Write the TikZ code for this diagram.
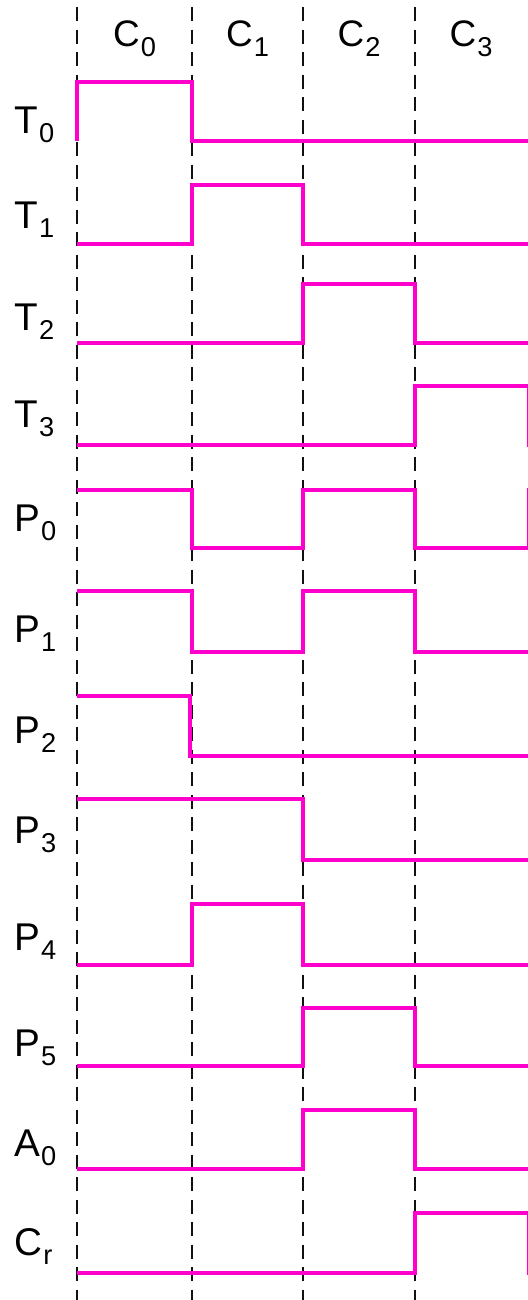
\documentclass[tikz,border=0pt]{standalone}
\usepackage{fontspec}
\setmainfont{Liberation Sans}
\usepackage{tikz}
\usetikzlibrary{calc}
\usepackage{xcolor}
\definecolor{SigPink}{HTML}{FF00CC}
\definecolor{GridInk}{HTML}{111111}
\newcommand{\sublab}[3]{#1\kern0.6pt\raisebox{-#3}{\fontsize{15.5}{15.5}\selectfont #2}}
\tikzset{
  cyc/.style={draw=GridInk, line width=1.7pt, dash pattern=on 0.28cm off 0.17cm},
  sig/.style={draw=SigPink, line width=2.8pt, line join=miter},
  rowlab/.style={anchor=base west, inner sep=0pt, font=\fontsize{22}{22}\selectfont},
  collab/.style={anchor=base, inner sep=0pt, font=\fontsize{21}{21}\selectfont},
}

\begin{document}
\begin{tikzpicture}[x=0.2mm, y=-0.2mm]
    \useasboundingbox (0,0) rectangle (528,1300);
    % cycle boundaries and cycle names
    \foreach \x [count=\i from 0] in {77,192,303,415}
      \draw[cyc] (\x,7) -- (\x,1300);
    \foreach \i/\xc in {0/134.5,1/247.5,2/359,3/471}
      \node[collab] (c\i) at (\xc,46) {\sublab{C}{\i}{0.2cm}};
    % signal names
    \foreach \nm/\s/\yb in {T/0/133, T/1/228, T/2/330, T/3/427,
        P/0/531, P/1/642, P/2/743, P/3/843, P/4/950, P/5/1056,
        A/0/1156, C/r/1255}
      \node[rowlab] (\nm\s) at (14,\yb) {\sublab{\nm}{\s}{0.18cm}};
    % waveforms
    \draw[sig] (77,141) -- (77,82) -- (192,82) -- (192,141) -- (532,141);
    \draw[sig] (77,244) -- (192,244) -- (192,185) -- (303,185) -- (303,244) -- (532,244);
    \draw[sig] (77,343) -- (303,343) -- (303,284) -- (415,284) -- (415,343) -- (532,343);
    \draw[sig] (77,445) -- (415,445) -- (415,386) -- (529,386) -- (529,445) -- (540,445);
    \draw[sig] (77,490) -- (192,490) -- (192,548) -- (303,548) -- (303,490)
      -- (415,490) -- (415,548) -- (529,548) -- (529,490) -- (540,490);
    \draw[sig] (77,591) -- (192,591) -- (192,652) -- (303,652) -- (303,591)
      -- (415,591) -- (415,652) -- (532,652);
    \draw[sig] (77,696) -- (190,696) -- (190,756) -- (532,756);
    \draw[sig] (77,799) -- (303,799) -- (303,860) -- (532,860);
    \draw[sig] (77,965) -- (192,965) -- (192,904) -- (303,904) -- (303,965) -- (532,965);
    \draw[sig] (77,1066) -- (303,1066) -- (303,1008) -- (415,1008) -- (415,1066) -- (532,1066);
    \draw[sig] (77,1169) -- (303,1169) -- (303,1110) -- (415,1110) -- (415,1169) -- (532,1169);
    \draw[sig] (77,1273) -- (415,1273) -- (415,1213) -- (529,1213) -- (529,1273) -- (540,1273);
\end{tikzpicture}
\end{document}
